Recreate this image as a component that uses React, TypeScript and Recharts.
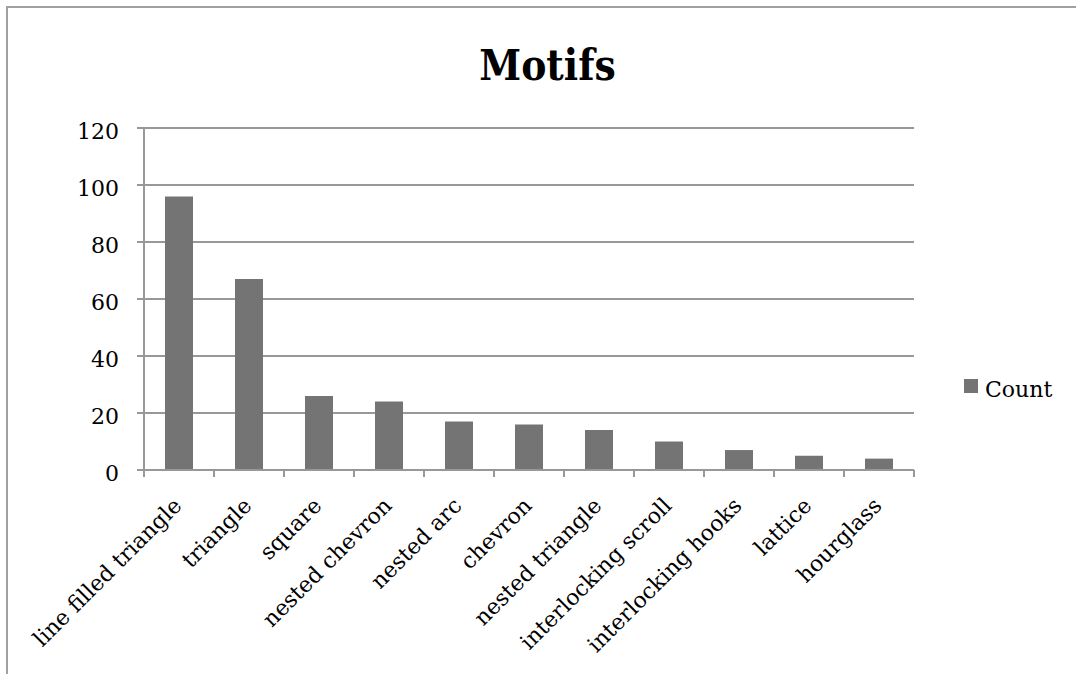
import React from 'react';
import { BarChart, Bar, XAxis, YAxis, CartesianGrid } from 'recharts';

// Motif frequencies
const categories = [
  'line filled triangle',
  'triangle',
  'square',
  'nested chevron',
  'nested arc',
  'chevron',
  'nested triangle',
  'interlocking scroll',
  'interlocking hooks',
  'lattice',
  'hourglass',
];
const counts = [96, 67, 26, 24, 17, 16, 14, 10, 7, 5, 4];
const yTicks = [0, 20, 40, 60, 80, 100, 120];
const seriesName = 'Count';
const chartTitle = 'Motifs';

const data = categories.map((name, i) => ({ name, count: counts[i] }));

const W = 1076;
const H = 674;
const Y_AXIS_W = 80;
const X_AXIS_H = 190;
const margin = { top: 128, right: 162, bottom: 14, left: 64 };
const plotLeft = margin.left + Y_AXIS_W;
const plotRight = W - margin.right;
const plotBottom = H - margin.bottom - X_AXIS_H;
const band = (plotRight - plotLeft) / categories.length;

const AXIS = '#989898';
const BAR = '#747474';
const FONT = '"DejaVu Serif", serif';

// Category labels slanted at -45deg, with tick marks on the category boundaries
const XTick = (props: any) => {
  const { x, payload, index } = props;
  const y = plotBottom;
  const left = x - band / 2;
  const tx = x + 4;
  const ty = y + 37;
  return (
    <g>
      <line x1={left} x2={left} y1={y} y2={y + 7} stroke={AXIS} strokeWidth={2} />
      {index === categories.length - 1 && (
        <line x1={x + band / 2} x2={x + band / 2} y1={y} y2={y + 7} stroke={AXIS} strokeWidth={2} />
      )}
      <text
        x={tx}
        y={ty}
        transform={`rotate(-45, ${tx}, ${ty})`}
        textAnchor="end"
        fontFamily={FONT}
        fontSize={22}
        fill="#000"
      >
        {payload.value}
      </text>
    </g>
  );
};

export default function App() {
  return (
    <div style={{ position: 'absolute', left: 0, top: 0, width: W, height: H, background: '#fff' }}>
      <BarChart width={W} height={H} data={data} margin={margin} barCategoryGap="30%">
        <CartesianGrid vertical={false} stroke={AXIS} strokeWidth={2} />
        <XAxis
          dataKey="name"
          interval={0}
          height={X_AXIS_H}
          axisLine={{ stroke: AXIS, strokeWidth: 2 }}
          tickLine={false}
          tickMargin={0}
          tick={<XTick />}
        />
        <YAxis
          width={Y_AXIS_W}
          domain={[0, 120]}
          ticks={yTicks}
          interval={0}
          axisLine={{ stroke: AXIS, strokeWidth: 2 }}
          tickLine={{ stroke: AXIS, strokeWidth: 2 }}
          tickSize={7}
          tickMargin={18}
          tick={{ fill: '#000', fontSize: 22, fontFamily: FONT, dy: 3 }}
        />
        <Bar dataKey="count" name={seriesName} fill={BAR} isAnimationActive={false} />
      </BarChart>
      <svg
        width={W}
        height={H}
        style={{ position: 'absolute', left: 0, top: 0, pointerEvents: 'none' }}
      >
        {/* chart frame */}
        <line x1={7} x2={7} y1={6} y2={H} stroke="#a0a0a0" strokeWidth={2} />
        <line x1={6} x2={W} y1={7} y2={7} stroke="#a0a0a0" strokeWidth={2} />
        {/* title */}
        <text
          x={547.5}
          y={80}
          textAnchor="middle"
          fontFamily={'"DejaVu Serif Condensed", "DejaVu Serif", serif'}
          fontWeight="bold"
          fontSize={42}
          fill="#000"
        >
          {chartTitle}
        </text>
        {/* legend */}
        <rect x={964} y={379} width={14} height={14} fill={BAR} />
        <text x={985} y={397} fontFamily={FONT} fontSize={22} fill="#000">
          {seriesName}
        </text>
      </svg>
    </div>
  );
}
